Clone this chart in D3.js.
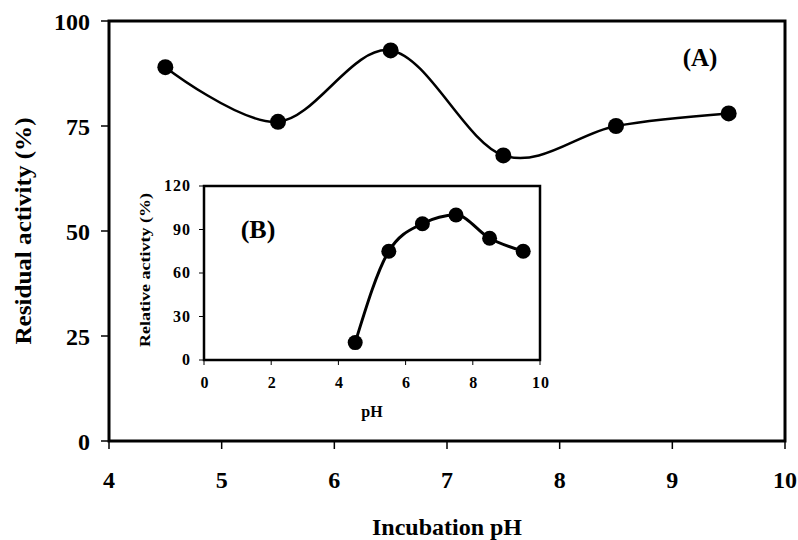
<!DOCTYPE html>
<html><head><meta charset="utf-8">
<script src="https://cdn.jsdelivr.net/npm/d3@7"></script>
<style>body{margin:0;background:#fff}svg{display:block}text{font-family:"Liberation Serif","Times New Roman",serif;font-weight:bold;fill:#000}</style>
</head><body><svg id="c" width="798" height="540"></svg>
<script>
const mainPH = [4.5, 5.5, 6.5, 7.5, 8.5, 9.5];
const residualActivity = [89, 76, 93, 68, 75, 78];
const insetPH = [4.5, 5.5, 6.5, 7.5, 8.5, 9.5];
const relativeActivity = [12, 75, 94, 100, 84, 75];
const mainXTicks = [4, 5, 6, 7, 8, 9, 10];
const mainYTicks = [0, 25, 50, 75, 100];
const insetXTicks = [0, 2, 4, 6, 8, 10];
const insetYTicks = [0, 30, 60, 90, 120];

const svg = d3.select("#c");

// Main chart
const x = d3.scaleLinear().domain([4, 10]).range([109, 785]);
const y = d3.scaleLinear().domain([0, 100]).range([441, 21]);

const g = svg.append("g");
g.append("rect").attr("x", x(4)).attr("y", y(100)).attr("width", x(10) - x(4)).attr("height", y(0) - y(100))
  .attr("fill", "none").attr("stroke", "#000").attr("stroke-width", 3);
g.selectAll(".xt").data(mainXTicks).enter().append("line")
  .attr("x1", d => x(d)).attr("x2", d => x(d)).attr("y1", y(0)).attr("y2", y(0) + 8)
  .attr("stroke", "#000").attr("stroke-width", 1.5);
g.selectAll(".xl").data(mainXTicks).enter().append("text")
  .attr("x", d => x(d)).attr("y", 488).attr("text-anchor", "middle").attr("font-size", 24).text(d => d);
g.selectAll(".yt").data(mainYTicks).enter().append("line")
  .attr("x1", x(4) - 8).attr("x2", x(4)).attr("y1", d => y(d)).attr("y2", d => y(d))
  .attr("stroke", "#000").attr("stroke-width", 1.5);
g.selectAll(".yl").data(mainYTicks).enter().append("text")
  .attr("x", 90).attr("y", d => y(d) + 9).attr("text-anchor", "end").attr("font-size", 24).text(d => d);

const line = d3.line().x(d => x(d[0])).y(d => y(d[1])).curve(d3.curveCardinal.tension(0));
const mainData = mainPH.map((p, i) => [p, residualActivity[i]]);
g.append("path").datum(mainData).attr("d", line).attr("fill", "none").attr("stroke", "#000").attr("stroke-width", 2.5);
g.selectAll(".pt").data(mainData).enter().append("circle")
  .attr("cx", d => x(d[0])).attr("cy", d => y(d[1])).attr("r", 8).attr("fill", "#000");

svg.append("text").attr("transform", "translate(31,231) rotate(-90)").attr("text-anchor", "middle")
  .attr("font-size", 24).attr("textLength", 227).attr("lengthAdjust", "spacingAndGlyphs").text("Residual activity (%)");
svg.append("text").attr("x", 447).attr("y", 535).attr("text-anchor", "middle").attr("font-size", 24)
  .attr("textLength", 150).attr("lengthAdjust", "spacingAndGlyphs").text("Incubation pH");
svg.append("text").attr("x", 700).attr("y", 66).attr("text-anchor", "middle").attr("font-size", 25).text("(A)");

// Inset chart
const xi = d3.scaleLinear().domain([0, 10]).range([204, 540]);
const yi = d3.scaleLinear().domain([0, 120]).range([360, 186]);
const gi = svg.append("g");
gi.append("rect").attr("x", xi(0)).attr("y", yi(120)).attr("width", xi(10) - xi(0)).attr("height", yi(0) - yi(120))
  .attr("fill", "#fff").attr("stroke", "#000").attr("stroke-width", 2.5);
gi.selectAll(".xt").data(insetXTicks).enter().append("line")
  .attr("x1", d => xi(d)).attr("x2", d => xi(d)).attr("y1", yi(0)).attr("y2", yi(0) + 5)
  .attr("stroke", "#000").attr("stroke-width", 1);
gi.selectAll(".xl").data(insetXTicks).enter().append("text")
  .attr("x", d => xi(d) + 1).attr("y", 388).attr("text-anchor", "middle").attr("font-size", 16)
  .attr("letter-spacing", 1).text(d => d);
gi.selectAll(".yt").data(insetYTicks).enter().append("line")
  .attr("x1", xi(0) - 5).attr("x2", xi(0)).attr("y1", d => yi(d)).attr("y2", d => yi(d))
  .attr("stroke", "#000").attr("stroke-width", 1);
gi.selectAll(".yl").data(insetYTicks).enter().append("text")
  .attr("x", 191).attr("y", d => yi(d) + 5).attr("text-anchor", "end").attr("font-size", 16)
  .attr("letter-spacing", 1).text(d => d);

const linei = d3.line().x(d => xi(d[0])).y(d => yi(d[1])).curve(d3.curveMonotoneX);
const insetData = insetPH.map((p, i) => [p, relativeActivity[i]]);
gi.append("path").datum(insetData).attr("d", linei).attr("fill", "none").attr("stroke", "#000").attr("stroke-width", 3);
gi.selectAll(".pt").data(insetData).enter().append("circle")
  .attr("cx", d => xi(d[0])).attr("cy", d => yi(d[1])).attr("r", 7.5).attr("fill", "#000");

svg.append("text").attr("transform", "translate(150,270) rotate(-90)").attr("text-anchor", "middle")
  .attr("font-size", 14).attr("textLength", 154).attr("lengthAdjust", "spacingAndGlyphs").text("Relative activty (%)");
svg.append("text").attr("x", 372).attr("y", 417).attr("text-anchor", "middle").attr("font-size", 16).text("pH");
svg.append("text").attr("x", 258).attr("y", 238).attr("text-anchor", "middle").attr("font-size", 26).text("(B)");
</script></body></html>
